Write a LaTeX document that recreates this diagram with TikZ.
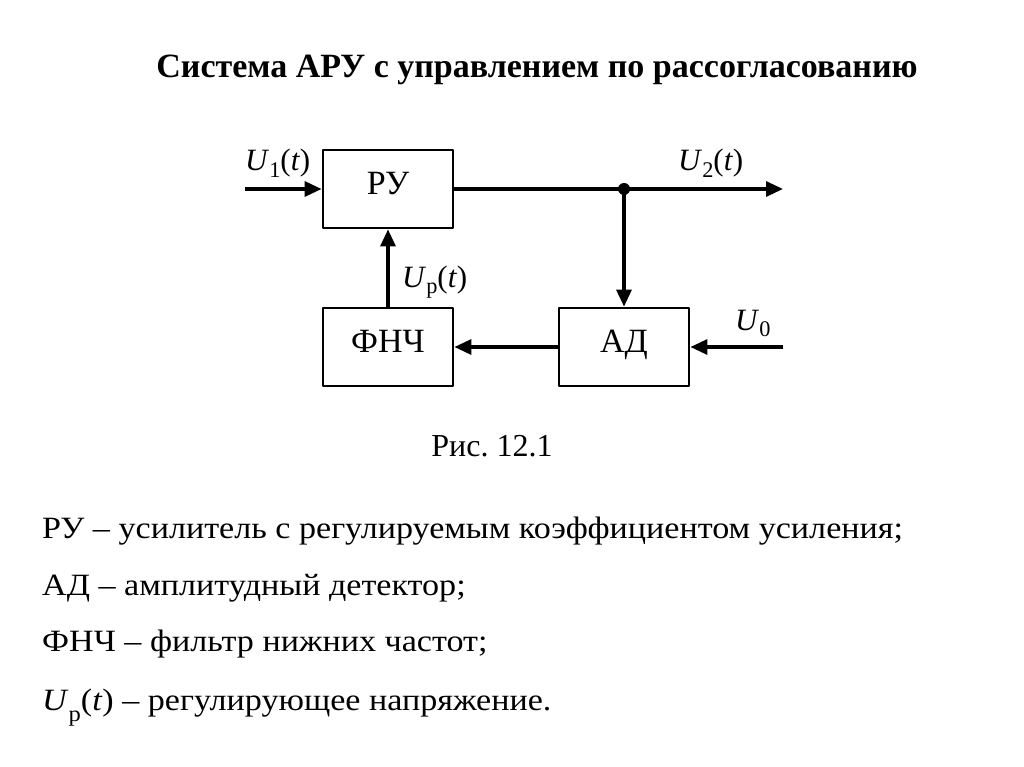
\documentclass[tikz,border=0pt]{standalone}
\usepackage{fontspec}
\setmainfont{Liberation Serif}
\usetikzlibrary{arrows.meta}
\newcommand{\usig}[3][0.22em]{\textit{U}\raisebox{-#1}{\scalebox{0.72}{#2}}#3}
\frenchspacing
\begin{document}
\begin{tikzpicture}[x=1pt,y=-1pt,>={Triangle[length=17pt,width=15pt]}, line join=round]
	\tikzset{blok/.style={draw,line width=2.8pt,minimum width=130pt,minimum height=78pt,
			text height=22pt,text depth=11pt,font=\fontsize{34}{38}\selectfont},
		sig/.style={line width=3.2pt},
		lbl/.style={anchor=base west,inner sep=0pt,font=\fontsize{31}{34}\selectfont},
		leg/.style={anchor=base west,inner sep=0pt,xscale=1.1,font=\fontsize{31}{34}\selectfont}}
	\useasboundingbox (0,0) rectangle (1024,767);
	% bloki
	\node[blok] (ru) at (388,189) {РУ};
	\node[blok] (fnch) at (388,347) {ФНЧ};
	\node[blok] (ad) at (624,347) {АД};
	\coordinate (vh) at (245,189);
	\coordinate (uzel) at (624,189);
	\coordinate (vyh) at (783,189);
	\coordinate (u0) at (783,347);
	% svyazi
	\draw[sig,->] (vh)--(ru);
	\draw[sig,->] (ru)--(vyh);
	\draw[sig,->] (uzel)--(ad);
	\draw[sig,->] (u0)--(ad);
	\draw[sig,->] (ad)--(fnch);
	\draw[sig,->] (fnch)--(ru);
	\fill (uzel) circle (6pt);
	% podpisi
	\node[lbl] (u1t) at (245,171) {\usig{1}{(\textit{t})}};
	\node[lbl] (u2t) at (678,171) {\usig{2}{(\textit{t})}};
	\node[lbl] (upt) at (402,287) {\usig{p}{(\textit{t})}};
	\node[lbl] (u0l) at (735,330) {\usig{0}{}};
	\node[anchor=base,font=\fontsize{34}{38}\bfseries\selectfont] (title) at (537,78) {Система АРУ с управлением по рассогласованию};
	\node[anchor=base,font=\fontsize{32}{36}\selectfont] (ris) at (492,456) {Рис. 12.1};
	% legenda
	\node[leg] (l1) at (42,538) {РУ – усилитель с регулируемым коэффициентом усиления;};
	\node[leg] (l2) at (42,595) {АД – амплитудный детектор;};
	\node[leg] (l3) at (42,651) {ФНЧ – фильтр нижних частот;};
	\node[leg] (l4) at (42,710) {\usig[0.36em]{p}{(\textit{t})} – регулирующее напряжение.};
\end{tikzpicture}
\end{document}
